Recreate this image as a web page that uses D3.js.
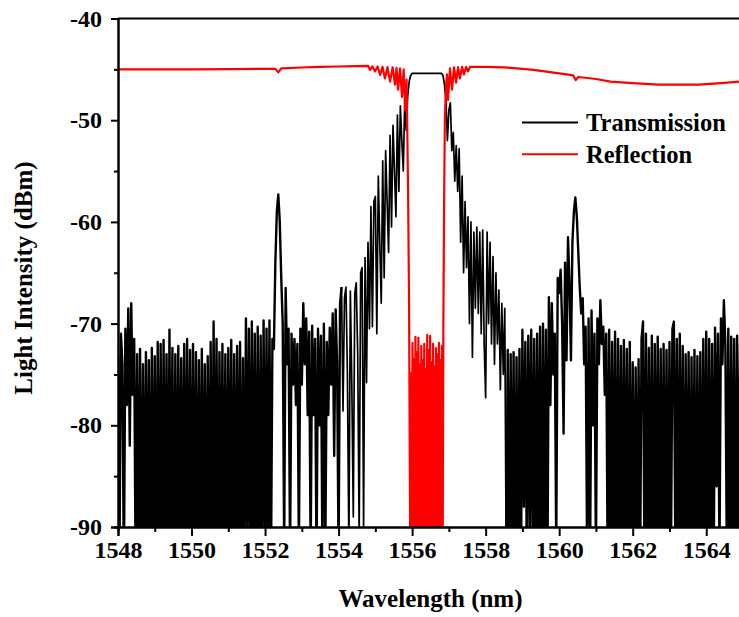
<!DOCTYPE html>
<html>
<head>
<meta charset="utf-8">
<script src="https://cdn.jsdelivr.net/npm/d3@7/dist/d3.min.js"></script>
<style>
  html, body { margin: 0; padding: 0; background: #fff; }
  svg text { font-family: "Liberation Serif", "Times New Roman", serif; font-weight: bold; }
</style>
</head>
<body>
<svg id="chart" width="739" height="617"></svg>
<script>
// Wavelength axis and intensity axis
const xDomain = [1548, 1565];
const yDomain = [-90, -40];
const xMajorTicks = [1548, 1550, 1552, 1554, 1556, 1558, 1560, 1562, 1564];
const xMinorTicks = [1549, 1551, 1553, 1555, 1557, 1559, 1561, 1563, 1565];
const yMajorTicks = [-90, -80, -70, -60, -50, -40];
const yMinorTicks = [-85, -75, -65, -55, -45];

// Transmission spectrum (dBm), sampled every 0.04 nm from 1548.00 nm
const transStart = 1548.0;
const transStep = 0.04;
const transmission = [
  // 1548
  -73, -93, -71, -74, -95, -70.5, -78, -68.5, -82, -68, -77, -71.5, -95, -73, -94, -72.5, -96, -74, -95, -72.8, -93, -73.6, -96, -72.4, -94,
  // 1549
  -73.2, -95, -71.8, -94, -72.0, -96, -71.6, -93, -73.0, -95, -70.6, -94, -72.4, -96, -73.0, -95, -72.2, -93, -73.4, -94, -72.0, -95, -71.5, -94, -72.6,
  // 1550
  -95, -72.0, -94, -72.8, -96, -73.6, -95, -72.5, -93, -74.0, -95, -73.2, -94, -71.8, -96, -69.8, -93, -71.5, -95, -72.8, -94, -72.0, -95, -73.0, -95,
  // 1551
  -72.4, -94, -71.6, -96, -73.0, -95, -72.2, -93, -71.8, -95, -73.4, -94, -69.5, -92, -70.5, -95, -69.8, -94, -71.0, -96, -70.3, -95, -71.2, -93, -69.7,
  // 1552
  -94, -70.5, -93, -69.7, -95, -71.5, -72.5, -64, -59, -57.3, -60, -65.5, -70, -92, -66.5, -74, -70.5, -93, -71, -76, -71.5, -78, -72, -92, -70.5,
  // 1553
  -76, -68, -74, -69.5, -79, -70.8, -93, -70.2, -79, -71.5, -94, -70.5, -80, -71.2, -93, -70.0, -92, -71.8, -79, -70.4, -76, -69.0, -83, -68.6, -74,
  // 1554
  -93, -68, -66.4, -78.6, -67.5, -66.4, -75, -92, -66.8, -76, -89, -67, -66.0, -73, -91, -65.0, -64.5, -90, -63.5, -75.8, -62, -70.5, -58.5, -70.3, -58,
  // 1555
  -57.5, -71, -55.5, -62, -68, -54, -65.5, -53, -58, -63, -51.5, -60.5, -50.5, -55, -59.5, -49.5, -57, -48.6, -52, -55, -48.0, -51, -47.6, -46.2, -45.6,
  // 1556
  -45.4, -45.4, -45.4, -45.4, -45.4, -45.4, -45.4, -45.4, -45.4, -45.4, -45.4, -45.4, -45.4, -45.4, -45.4, -45.4, -45.4, -45.4, -45.4, -45.4, -45.4, -45.6, -46.5, -48, -52,
  // 1557
  -49.0, -48.3, -53, -51.2, -56, -52.5, -57, -52.8, -62, -55.5, -65, -58, -64.5, -59.5, -70, -60, -73.3, -61, -68.5, -60.5, -69, -61, -71, -60.8, -72,
  // 1558
  -77.3, -61, -70, -62, -72, -63.4, -74, -65, -72, -66.7, -76.5, -68, -75, -68.5, -94, -72.6, -95, -73.0, -93, -72.8, -96, -73.3, -94, -72.5, -95,
  // 1559
  -70.6, -88, -71.8, -94, -71.2, -90, -70.6, -94, -71.5, -95, -71.0, -94, -70.3, -96, -70.0, -93, -70.6, -95, -67.4, -78, -68.0, -75, -71, -92, -65.5,
  // 1560
  -67, -64.7, -70, -80.8, -64, -73.6, -61.5, -66, -73.6, -62, -59, -57.6, -59.5, -63, -66.5, -69, -67.5, -74, -70.3, -93, -69.5, -94, -68.7, -80, -71,
  // 1561
  -93, -69.5, -74, -67.7, -72, -70.3, -77, -71.0, -95, -70.6, -95, -71.8, -94, -70.8, -96, -71.5, -93, -72.2, -95, -71.6, -94, -72.5, -96, -71.8, -95,
  // 1562
  -73.8, -95, -74.3, -93, -73.5, -96, -71.5, -69.8, -94, -71, -95, -72.4, -94, -71.2, -96, -72.0, -93, -71.3, -95, -72.5, -94, -72.0, -96, -72.6, -95,
  // 1563
  -71.8, -94, -70.5, -69.8, -93, -71.5, -95, -71.0, -93, -72.2, -96, -73.0, -94, -72.8, -95, -73.3, -93, -72.6, -96, -73.2, -94, -72.8, -95, -71.5, -93,
  // 1564
  -70.8, -95, -71.5, -94, -72, -96, -70.4, -86, -71, -93, -69.5, -74, -67.7, -72, -93, -70.5, -95, -71.3, -94, -71.5, -96, -71.2, -94, -72, -95, -71.5
];

// Reflection spectrum as [wavelength nm, dBm]
const reflection = [
  [1548.0, -45.0], [1549.0, -45.0], [1550.0, -45.0], [1551.0, -44.98], [1552.0, -44.95],
  [1552.28, -44.95], [1552.36, -45.3], [1552.44, -44.9], [1553.0, -44.82], [1553.5, -44.75],
  [1554.0, -44.72], [1554.5, -44.68], [1554.8, -44.65],
  [1554.855, -45.06], [1554.92, -44.7], [1554.99, -45.2], [1555.06, -44.72], [1555.13, -45.56],
  [1555.195, -44.75], [1555.26, -45.9], [1555.33, -44.78], [1555.40, -46.2], [1555.47, -44.8],
  [1555.535, -46.5], [1555.575, -44.85], [1555.617, -47.0], [1555.67, -44.9], [1555.725, -47.7],
  [1555.77, -45.0], [1555.81, -49.0], [1555.85, -46.0], [1555.89, -56.9], [1555.917, -68],
  [1555.944, -89.3], [1555.955, -95],
  [1555.97, -74.9], [1555.99, -95], [1556.01, -71.9], [1556.03, -94], [1556.05, -73.5], [1556.07, -96],
  [1556.09, -71.3], [1556.11, -95], [1556.13, -72.8], [1556.15, -93], [1556.17, -71.4], [1556.19, -95],
  [1556.21, -74.0], [1556.23, -96], [1556.25, -72.2], [1556.27, -94], [1556.29, -73.6], [1556.31, -95],
  [1556.33, -72.0], [1556.35, -93], [1556.37, -74.5], [1556.39, -96], [1556.41, -71.1], [1556.43, -95],
  [1556.45, -72.6], [1556.47, -94], [1556.49, -71.2], [1556.51, -95], [1556.53, -73.8], [1556.55, -96],
  [1556.57, -72.0], [1556.59, -94], [1556.61, -74.2], [1556.63, -95], [1556.65, -72.4], [1556.67, -93],
  [1556.69, -73.0], [1556.71, -96], [1556.73, -71.9], [1556.75, -95], [1556.77, -73.6], [1556.79, -94],
  [1556.81, -72.2], [1556.83, -95],
  [1556.85, -70.3], [1556.87, -58], [1556.89, -50], [1556.92, -46.8], [1556.95, -45.5],
  [1556.977, -48.0], [1557.03, -44.9], [1557.086, -47.0], [1557.14, -44.8], [1557.195, -46.3],
  [1557.25, -44.78], [1557.30, -45.9], [1557.36, -44.75], [1557.41, -45.5], [1557.47, -44.75],
  [1557.52, -45.2], [1557.576, -44.75], [1558.0, -44.75], [1558.5, -44.8], [1559.0, -44.95],
  [1559.3, -45.05], [1559.8, -45.3], [1560.2, -45.5], [1560.38, -45.6], [1560.45, -46.05],
  [1560.52, -45.75], [1561.0, -45.95], [1561.4, -46.2], [1562.0, -46.35], [1562.7, -46.5],
  [1563.3, -46.5], [1563.8, -46.5], [1564.4, -46.35], [1564.9, -46.2], [1565.0, -46.18]
];

// Legend entries
const legendLabels = ["Transmission", "Reflection"];
const legendColors = ["#000000", "#ff0000"];

// Stroke weight per stretch of the transmission trace: the dense noise floor
// is drawn heavier, the resolved fringes around the passband lighter
const transStyles = [
  { from: 0, to: 152, width: 2.4 },
  { from: 152, to: 264, width: 1.7 },
  { from: 264, to: 425, width: 2.4 }
];

const svg = d3.select("#chart");
const margin = { left: 118, top: 18.5, right: 743, bottom: 527 };

const x = d3.scaleLinear().domain(xDomain).range([margin.left, margin.right]);
const y = d3.scaleLinear().domain(yDomain).range([margin.bottom, margin.top]);

svg.append("defs").append("clipPath").attr("id", "plotClip")
  .append("rect")
  .attr("x", margin.left).attr("y", margin.top)
  .attr("width", margin.right - margin.left)
  .attr("height", margin.bottom - margin.top);

const plot = svg.append("g").attr("clip-path", "url(#plotClip)");

const line = d3.line().x(d => x(d[0])).y(d => y(d[1]));

const transPoints = transmission.map((v, i) => [transStart + i * transStep, v]);

plot.selectAll("path.trans")
  .data(transStyles)
  .join("path")
  .attr("class", "trans")
  .attr("fill", "none")
  .attr("stroke", "#000")
  .attr("stroke-width", s => s.width)
  .attr("stroke-linejoin", "round")
  .attr("d", s => line(transPoints.slice(s.from, s.to + 1)));

plot.append("path")
  .datum(reflection)
  .attr("fill", "none")
  .attr("stroke", "#ff0000")
  .attr("stroke-width", 2.2)
  .attr("stroke-linejoin", "round")
  .attr("d", line);

// Axes
const fmt = d => String(d);

const xAxisMajor = svg.append("g")
  .attr("transform", `translate(0,${margin.bottom})`)
  .call(d3.axisBottom(x).tickValues(xMajorTicks).tickSize(9).tickPadding(5).tickFormat(fmt));
const xAxisMinor = svg.append("g")
  .attr("transform", `translate(0,${margin.bottom})`)
  .call(d3.axisBottom(x).tickValues(xMinorTicks).tickSize(5).tickFormat(""));

const yAxisMajor = svg.append("g")
  .attr("transform", `translate(${margin.left},0)`)
  .call(d3.axisLeft(y).tickValues(yMajorTicks).tickSize(7).tickPadding(9).tickFormat(fmt));
const yAxisMinor = svg.append("g")
  .attr("transform", `translate(${margin.left},0)`)
  .call(d3.axisLeft(y).tickValues(yMinorTicks).tickSize(4).tickFormat(""));

[xAxisMajor, xAxisMinor, yAxisMajor, yAxisMinor].forEach(g => {
  g.selectAll("path.domain").attr("stroke", "#000").attr("stroke-width", 2);
  g.selectAll(".tick line").attr("stroke", "#000").attr("stroke-width", 2);
  g.selectAll(".tick text").attr("fill", "#000").style("font-size", "24px")
    .style("font-family", '"Liberation Serif", "Times New Roman", serif').style("font-weight", "bold");
});

// Top and right frame lines
svg.append("line")
  .attr("x1", margin.left).attr("x2", margin.right)
  .attr("y1", margin.top).attr("y2", margin.top)
  .attr("stroke", "#000").attr("stroke-width", 2);
svg.append("line")
  .attr("x1", margin.right).attr("x2", margin.right)
  .attr("y1", margin.top).attr("y2", margin.bottom)
  .attr("stroke", "#000").attr("stroke-width", 2);

// Axis titles
svg.append("text")
  .attr("x", (margin.left + margin.right) / 2)
  .attr("y", 607)
  .attr("text-anchor", "middle")
  .style("font-size", "25px")
  .text("Wavelength (nm)");

svg.append("text")
  .attr("transform", "translate(32,278) rotate(-90)")
  .attr("text-anchor", "middle")
  .style("font-size", "25px")
  .text("Light Intensity (dBm)");

// Legend
const legend = svg.append("g");
legendLabels.forEach((label, i) => {
  const ly = 122.5 + i * 31.8;
  legend.append("line")
    .attr("x1", 522).attr("x2", 578)
    .attr("y1", ly).attr("y2", ly)
    .attr("stroke", legendColors[i]).attr("stroke-width", 2);
  legend.append("text")
    .attr("x", 586).attr("y", ly + 8.5)
    .style("font-size", "24.5px")
    .attr("fill", "#000")
    .text(label);
});
</script>
</body>
</html>
